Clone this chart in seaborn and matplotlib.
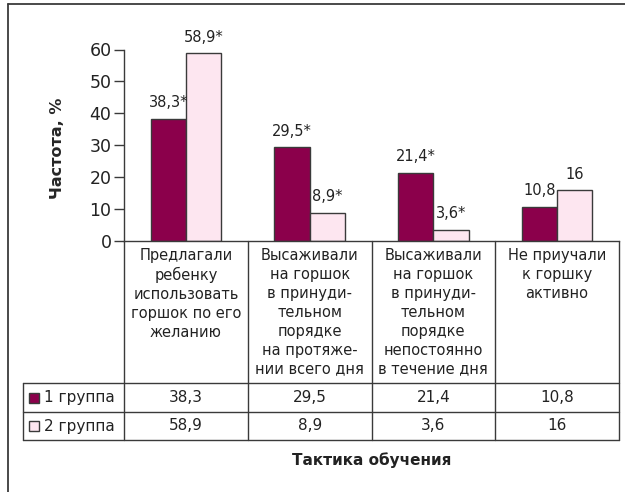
import matplotlib
matplotlib.use("Agg")
import matplotlib.pyplot as plt
from matplotlib.lines import Line2D
from matplotlib.patches import Rectangle
import pandas as pd
import seaborn as sns

# data
categories = [
    "Предлагали\nребенку\nиспользовать\nгоршок по его\nжеланию",
    "Высаживали\nна горшок\nв принуди-\nтельном\nпорядке\nна протяже-\nнии всего дня",
    "Высаживали\nна горшок\nв принуди-\nтельном\nпорядке\nнепостоянно\nв течение дня",
    "Не приучали\nк горшку\nактивно",
]
groups = ["1 группа", "2 группа"]
group1 = [38.3, 29.5, 21.4, 10.8]
group2 = [58.9, 8.9, 3.6, 16]
group1_sig = ["*", "*", "*", ""]
group2_sig = ["*", "*", "*", ""]
y_ticks = [0, 10, 20, 30, 40, 50, 60]
colors = ["#8b004b", "#fde6f0"]

W, H = 625, 492
LINE = "#3a3a3a"


def fx(px):
    return px / W


def fy(py):
    return 1 - py / H


def fmt(v):
    return f"{v:g}".replace(".", ",")


sns.set_theme(style="white")
plt.rcParams["font.family"] = ["DejaVu Sans"]
plt.rcParams["text.color"] = "#222222"

df = pd.DataFrame({
    "Тактика": categories * 2,
    "Группа": [groups[0]] * len(categories) + [groups[1]] * len(categories),
    "Частота": group1 + group2,
})

fig = plt.figure(figsize=(6.25, 4.92), dpi=100)
ax = fig.add_axes([fx(124), fy(241), fx(619) - fx(124), fy(49.5) - fy(241)])

sns.barplot(data=df, x="Тактика", y="Частота", hue="Группа", order=categories,
            hue_order=groups, palette=colors, saturation=1, width=0.57,
            edgecolor=LINE, linewidth=1, legend=False, ax=ax)

for cont, vals, sig in zip(ax.containers, [group1, group2], [group1_sig, group2_sig]):
    ax.bar_label(cont, labels=[fmt(v) + s for v, s in zip(vals, sig)],
                 padding=6, fontsize=10.5, color="#222222")

ax.set_xlim(-0.5, len(categories) - 0.5)
ax.set_ylim(0, 60)
ax.set_yticks(y_ticks)
ax.set_yticklabels([str(t) for t in y_ticks])
for s in ["top", "right"]:
    ax.spines[s].set_visible(False)
for s in ["left", "bottom"]:
    ax.spines[s].set_color(LINE)
    ax.spines[s].set_linewidth(1)
ax.tick_params(axis="y", length=7, width=1, color=LINE, labelsize=12.5, pad=2,
               left=True, labelcolor="#222222")
ax.tick_params(axis="x", length=0, pad=5, labelsize=10.5, labelcolor="#222222")
for lab in ax.get_xticklabels():
    lab.set_linespacing(1.33)

ax.set_xlabel("")
ax.set_ylabel("Частота, %", fontsize=11.5, fontweight="bold")
ax.yaxis.label.set_va("center")
ax.yaxis.set_label_coords((57 - 124) / 495, (241 - 148) / 191.5)

# data table under the chart
row_lines = [383, 412, 440]
row_centers = [397.5, 426]
for py in row_lines:
    fig.add_artist(Line2D([fx(23), fx(619)], [fy(py)] * 2, color=LINE, lw=1))
fig.add_artist(Line2D([fx(23), fx(23)], [fy(383), fy(440)], color=LINE, lw=1))
bounds = [124 + i * 123.75 for i in range(len(categories) + 1)]
for px in bounds:
    fig.add_artist(Line2D([fx(px), fx(px)], [fy(241), fy(440)], color=LINE, lw=1))

for row, (name, vals, col) in enumerate(zip(groups, [group1, group2], colors)):
    cy = row_centers[row]
    fig.add_artist(Rectangle((fx(29), fy(cy + 5)), fx(10), 10 / H,
                             facecolor=col, edgecolor=LINE, lw=1))
    fig.text(fx(44), fy(cy), name, fontsize=11, va="center", ha="left")
    for i, v in enumerate(vals):
        fig.text(fx(bounds[i] + 61.9), fy(cy), fmt(v), fontsize=11,
                 va="center", ha="center")

fig.text(fx(372), fy(460), "Тактика обучения", fontsize=11, fontweight="bold",
         ha="center", va="center")

# outer frame (cropped on right and bottom)
fig.add_artist(Line2D([fx(8), fx(8)], [0, fy(4)], color=LINE, lw=1.3))
fig.add_artist(Line2D([fx(8), 1], [fy(4), fy(4)], color=LINE, lw=1.3))

fig.savefig("out.png", dpi=100)
